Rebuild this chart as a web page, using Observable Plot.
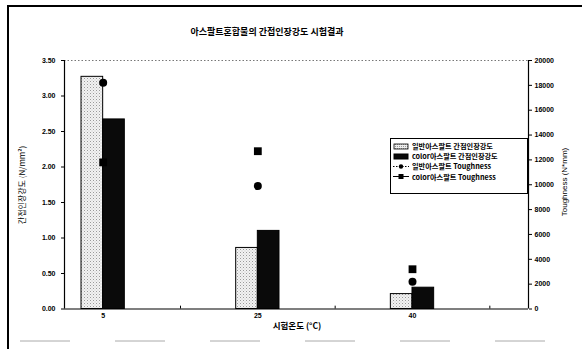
<!DOCTYPE html>
<html>
<head>
<meta charset="utf-8">
<script src="https://cdn.jsdelivr.net/npm/d3@7"></script>
<script src="https://cdn.jsdelivr.net/npm/@observablehq/plot@0.6"></script>
<style>
  html, body { margin: 0; padding: 0; background: #fff; }
  #wrap { position: relative; width: 582px; height: 349px; overflow: hidden; font-family: "Noto Sans CJK KR", "Liberation Sans", sans-serif; color: #000; }
  #wrap svg { position: absolute; left: 0; top: 0; }
  .abs { position: absolute; white-space: nowrap; }
  #title { left: 0; width: 534px; top: 25px; text-align: center; font-size: 9px; font-weight: bold; }
  #ylab { left: 21px; top: 185px; font-size: 8px; transform: translate(-50%, -50%) rotate(-90deg); }
  #y2lab { left: 564px; top: 182px; font-size: 8px; transform: translate(-50%, -50%) rotate(-90deg); font-family: "Liberation Sans", sans-serif; }
  #xlab { left: 297px; top: 325px; font-size: 8.5px; font-weight: bold; transform: translate(-50%, -50%); }
  #legend { left: 390px; top: 138px; width: 136px; height: 54px; border: 1px solid #000; background: #fff; }
  .lrow { position: absolute; left: 2px; height: 10px; display: flex; align-items: center; font-size: 7.2px; font-weight: bold; }
  .lrow svg { position: static !important; margin-right: 2px; }
  #borderL { left: 7px; top: 5px; width: 1.5px; height: 344px; background: #000; }
  #borderT { left: 7px; top: 5px; width: 575px; height: 1.5px; background: #000; }
</style>
</head>
<body>
<div id="wrap">
  <div class="abs" id="borderL"></div>
  <div class="abs" id="borderT"></div>
</div>
<script>
// ---- data ----
const temps = ["5", "25", "40"];
const normalStrength = [3.27, 0.86, 0.21];   // 일반아스팔트 간접인장강도 (N/mm²)
const colorStrength  = [2.67, 1.10, 0.30];   // color아스팔트 간접인장강도 (N/mm²)
const normalTough    = [18200, 9900, 2200];  // 일반아스팔트 Toughness (N*mm)
const colorTough     = [11800, 12700, 3200]; // color아스팔트 Toughness (N*mm)
const leftTicks  = [0, 0.5, 1, 1.5, 2, 2.5, 3, 3.5];
const rightTicks = [0, 2000, 4000, 6000, 8000, 10000, 12000, 14000, 16000, 18000, 20000];
const legendLabels = ["일반아스팔트 간접인장강도", "color아스팔트 간접인장강도", "일반아스팔트 Toughness", "color아스팔트 Toughness"];

const yMax = 3.5, tMax = 20000;
const toY = t => t / tMax * yMax;
const xDomain = [-0.25, 2.75];
const barW = 0.14;

const rows = temps.map((t, i) => ({i, t, ns: normalStrength[i], cs: colorStrength[i], nt: normalTough[i], ct: colorTough[i]}));

const font = "Liberation Sans, sans-serif";
const chart = Plot.plot({
  width: 582, height: 349,
  marginTop: 60, marginBottom: 40.5, marginLeft: 64, marginRight: 54,
  style: {fontFamily: font, fontSize: "7px", fontWeight: "bold", background: "transparent", overflow: "visible"},
  x: {type: "linear", domain: xDomain},
  y: {domain: [0, yMax]},
  marks: [
    Plot.ruleY([yMax], {stroke: "#777", strokeDasharray: "1.5,2"}),
    Plot.rectY(rows, {x1: d => d.i - barW, x2: d => d.i, y1: 0, y2: "ns", fill: "url(#dotpat)", stroke: "#000", strokeWidth: 1}),
    Plot.rectY(rows, {x1: d => d.i, x2: d => d.i + barW, y1: 0, y2: "cs", fill: "#0a0a0a", stroke: "#000", strokeWidth: 1}),
    Plot.dot(rows, {x: "i", y: d => toY(d.nt), r: 4, fill: "#000", stroke: "none", symbol: "circle"}),
    Plot.dot(rows, {x: "i", y: d => toY(d.ct), r: 4.4, fill: "#000", stroke: "none", symbol: "square"}),
    Plot.ruleY([0], {stroke: "#000", strokeWidth: 1.2}),
    Plot.ruleX([xDomain[0]], {stroke: "#000", strokeWidth: 1.2}),
    Plot.ruleX([xDomain[1]], {stroke: "#000", strokeWidth: 1.2}),
    Plot.ruleX([0.5, 1.5, 2.5], {y1: 0, y2: 0.04, stroke: "#000"}),
    Plot.axisY({ticks: leftTicks, tickFormat: d => d.toFixed(2), tickSize: 3, tickPadding: 6, label: null, fontSize: 7}),
    Plot.axisY({anchor: "right", ticks: rightTicks.map(toY), tickFormat: v => String(Math.round(v / yMax * tMax)), tickSize: 3, tickPadding: 3, label: null, fontSize: 7}),
    Plot.axisX({ticks: [0, 1, 2], tickFormat: i => temps[i], tickSize: 0, tickPadding: 4, label: null, fontSize: 7})
  ]
});

// dotted fill pattern for the light bars
const ns = "http://www.w3.org/2000/svg";
const defs = document.createElementNS(ns, "defs");
defs.innerHTML = `<pattern id="dotpat" width="3" height="3" patternUnits="userSpaceOnUse">
  <rect width="3" height="3" fill="#f2f2f2"/>
  <rect x="0" y="0" width="1" height="1" fill="#9a9a9a"/>
  <rect x="1.5" y="1.5" width="1" height="1" fill="#c4c4c4"/>
</pattern>`;
chart.insertBefore(defs, chart.firstChild);

const wrap = document.getElementById("wrap");
wrap.appendChild(chart);

// bottom broken gray line
const bl = document.createElementNS(ns, "svg");
bl.setAttribute("width", 582); bl.setAttribute("height", 349);
bl.style.position = "absolute"; bl.style.left = "0"; bl.style.top = "0"; bl.style.pointerEvents = "none";
bl.innerHTML = `<line x1="20" x2="582" y1="341" y2="341" stroke="#aaa" stroke-width="1" stroke-dasharray="50,45"/>`;
wrap.appendChild(bl);

function addText(id, txt) {
  const d = document.createElement("div");
  d.className = "abs"; d.id = id; d.textContent = txt;
  wrap.appendChild(d);
}
addText("title", "아스팔트혼합물의 간접인장강도 시험결과");
addText("ylab", "간접인장강도 (N/mm²)");
addText("y2lab", "Toughness (N*mm)");
addText("xlab", "시험온도 (°C)");

// legend
const lg = document.createElement("div");
lg.className = "abs"; lg.id = "legend";
const swatches = [
  `<rect x="1" y="2" width="14" height="5" fill="url(#dotpat2)" stroke="#000" stroke-width="0.8"/>`,
  `<rect x="1" y="2" width="14" height="5" fill="#0a0a0a" stroke="#000"/>`,
  `<line x1="0" x2="16" y1="4.5" y2="4.5" stroke="#000" stroke-width="1" stroke-dasharray="1.5,1.5"/><circle cx="8" cy="4.5" r="2.2" fill="#000"/>`,
  `<line x1="0" x2="16" y1="4.5" y2="4.5" stroke="#000" stroke-width="1"/><rect x="5.5" y="2" width="5" height="5" fill="#000"/>`
];
legendLabels.forEach((lab, k) => {
  const r = document.createElement("div");
  r.className = "lrow";
  r.style.top = (2 + k * 10.2) + "px";
  r.innerHTML = `<svg width="17" height="9" viewBox="0 0 17 9"><defs><pattern id="dotpat2" width="2" height="2" patternUnits="userSpaceOnUse"><rect width="2" height="2" fill="#eee"/><rect width="1" height="1" fill="#999"/></pattern></defs>${swatches[k]}</svg><span>${lab}</span>`;
  lg.appendChild(r);
});
wrap.appendChild(lg);
</script>
</body>
</html>
